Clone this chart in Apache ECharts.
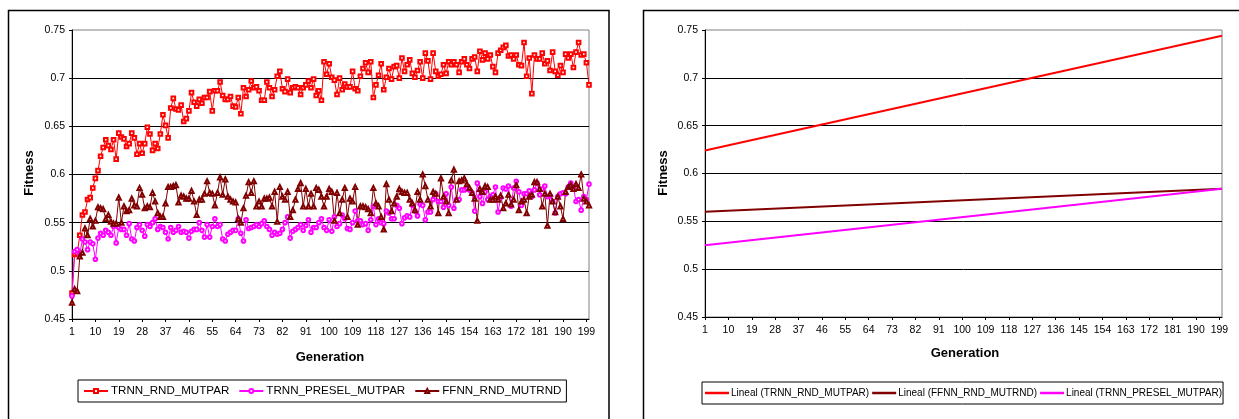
<!DOCTYPE html>
<html>
<head>
<meta charset="utf-8">
<script src="https://cdn.jsdelivr.net/npm/echarts@6/dist/echarts.min.js"></script>
<style>
html,body{margin:0;padding:0;background:#fff;}
#c{width:1239px;height:419px;}
</style>
</head>
<body>
<div id="c"></div>
<script>
// ---- data ----
const generations = Array.from({length: 200}, (_, i) => String(i + 1));

const trnnRndMutpar = [
0.477,0.517,0.518,0.537,0.558,0.561,0.574,0.576,0.586,0.596,
0.604,0.619,0.628,0.636,0.630,0.626,0.636,0.616,0.643,0.639,
0.637,0.629,0.632,0.643,0.638,0.621,0.632,0.622,0.632,0.649,
0.642,0.625,0.632,0.627,0.642,0.662,0.651,0.638,0.669,0.679,
0.668,0.667,0.672,0.655,0.658,0.666,0.685,0.675,0.671,0.678,
0.674,0.680,0.680,0.686,0.666,0.687,0.687,0.696,0.682,0.678,
0.678,0.681,0.671,0.670,0.680,0.663,0.690,0.681,0.688,0.697,
0.690,0.691,0.687,0.677,0.677,0.696,0.690,0.681,0.688,0.702,
0.707,0.689,0.686,0.699,0.685,0.690,0.691,0.690,0.683,0.690,
0.693,0.697,0.690,0.699,0.682,0.687,0.677,0.717,0.704,0.715,
0.701,0.698,0.683,0.700,0.688,0.694,0.691,0.691,0.707,0.689,
0.687,0.702,0.710,0.716,0.706,0.717,0.680,0.693,0.703,0.715,
0.688,0.701,0.710,0.699,0.712,0.713,0.700,0.721,0.707,0.714,
0.719,0.705,0.701,0.708,0.717,0.700,0.726,0.718,0.699,0.726,
0.707,0.702,0.704,0.714,0.705,0.717,0.714,0.717,0.714,0.706,
0.717,0.720,0.714,0.710,0.720,0.722,0.707,0.728,0.719,0.726,
0.720,0.724,0.712,0.706,0.726,0.729,0.732,0.734,0.723,0.724,
0.720,0.724,0.714,0.713,0.737,0.702,0.721,0.684,0.724,0.720,
0.720,0.726,0.715,0.718,0.708,0.727,0.707,0.703,0.713,0.706,
0.725,0.721,0.725,0.711,0.727,0.737,0.724,0.725,0.716,0.693
];

const trnnPreselMutpar = [
0.474,0.520,0.522,0.517,0.533,0.530,0.522,0.530,0.528,0.512,
0.534,0.539,0.537,0.542,0.540,0.537,0.546,0.529,0.545,0.543,
0.543,0.537,0.549,0.533,0.531,0.545,0.548,0.542,0.536,0.548,
0.546,0.550,0.554,0.543,0.546,0.545,0.540,0.533,0.545,0.540,
0.542,0.546,0.540,0.541,0.540,0.534,0.541,0.543,0.543,0.550,
0.542,0.535,0.548,0.535,0.546,0.554,0.546,0.548,0.533,0.531,
0.538,0.540,0.542,0.542,0.554,0.539,0.531,0.553,0.544,0.545,
0.546,0.548,0.546,0.549,0.552,0.546,0.543,0.537,0.540,0.538,
0.539,0.543,0.550,0.556,0.534,0.541,0.543,0.545,0.548,0.542,
0.547,0.553,0.540,0.545,0.545,0.550,0.554,0.545,0.542,0.553,
0.541,0.556,0.546,0.549,0.558,0.554,0.544,0.543,0.550,0.562,
0.552,0.552,0.548,0.549,0.542,0.553,0.567,0.548,0.554,0.550,
0.549,0.562,0.560,0.554,0.554,0.568,0.565,0.549,0.555,0.557,
0.556,0.568,0.562,0.557,0.569,0.568,0.553,0.561,0.561,0.574,
0.580,0.572,0.572,0.566,0.580,0.568,0.587,0.565,0.574,0.574,
0.584,0.584,0.585,0.584,0.581,0.562,0.591,0.577,0.570,0.582,
0.574,0.577,0.579,0.587,0.561,0.576,0.586,0.585,0.588,0.567,
0.586,0.593,0.582,0.568,0.580,0.580,0.583,0.577,0.584,0.591,
0.579,0.585,0.588,0.577,0.578,0.572,0.560,0.577,0.580,0.581,
0.580,0.587,0.591,0.587,0.572,0.574,0.563,0.577,0.574,0.590
];

const ffnnRndMutrnd = [
0.467,0.481,0.479,0.515,0.519,0.544,0.537,0.554,0.546,0.552,
0.566,0.565,0.564,0.554,0.558,0.551,0.549,0.549,0.576,0.550,
0.567,0.562,0.563,0.575,0.568,0.567,0.586,0.579,0.565,0.567,
0.566,0.581,0.572,0.560,0.556,0.556,0.570,0.587,0.587,0.588,
0.589,0.571,0.578,0.577,0.575,0.575,0.583,0.572,0.558,0.574,
0.574,0.580,0.593,0.581,0.580,0.568,0.581,0.597,0.579,0.595,
0.577,0.574,0.572,0.571,0.554,0.550,0.565,0.578,0.592,0.581,
0.593,0.567,0.572,0.567,0.575,0.575,0.576,0.567,0.582,0.551,
0.587,0.577,0.574,0.582,0.556,0.563,0.574,0.585,0.591,0.567,
0.585,0.567,0.580,0.567,0.586,0.584,0.577,0.567,0.577,0.585,
0.582,0.552,0.581,0.560,0.574,0.586,0.556,0.575,0.572,0.587,
0.548,0.567,0.567,0.566,0.564,0.560,0.586,0.570,0.567,0.556,
0.543,0.590,0.574,0.562,0.570,0.577,0.585,0.582,0.581,0.581,
0.574,0.570,0.563,0.582,0.574,0.600,0.588,0.574,0.567,0.582,
0.580,0.560,0.596,0.577,0.572,0.560,0.594,0.605,0.574,0.593,
0.594,0.596,0.590,0.586,0.581,0.575,0.552,0.585,0.582,0.588,
0.587,0.574,0.574,0.577,0.574,0.578,0.565,0.570,0.579,0.569,
0.574,0.589,0.563,0.572,0.574,0.560,0.577,0.579,0.592,0.592,
0.585,0.567,0.580,0.547,0.580,0.572,0.561,0.577,0.567,0.554,
0.582,0.587,0.589,0.585,0.590,0.586,0.600,0.575,0.572,0.568
];

// trend lines (read at generation 1 and 200)
const trendGens = ['1', '200'];
const trendTrnnRnd = [0.624, 0.744];
const trendFfnnRnd = [0.560, 0.584];
const trendTrnnPresel = [0.525, 0.584];

const yTicks = {min: 0.45, max: 0.75, interval: 0.05};

// ---- chart ----
const FONT = "'Liberation Sans', Arial, sans-serif";
const chart = echarts.init(document.getElementById('c'), null, {renderer: 'canvas'});

function xAxisCfg(gi) {
  return {
    type: 'category', gridIndex: gi, data: generations, boundaryGap: false,
    axisLine: {lineStyle: {color: '#000', width: 1}},
    axisTick: {interval: 8, length: 3, lineStyle: {color: '#000'}},
    axisLabel: {interval: 8, color: '#000', fontSize: 10.5, fontFamily: FONT, margin: 8},
    splitLine: {show: false}
  };
}
function yAxisCfg(gi) {
  return {
    type: 'value', gridIndex: gi, min: yTicks.min, max: yTicks.max, interval: yTicks.interval,
    axisLine: {show: true, lineStyle: {color: '#000', width: 1}},
    axisTick: {show: true, length: 3, lineStyle: {color: '#000'}},
    axisLabel: {color: '#000', fontSize: 10.5, fontFamily: FONT, margin: 7},
    splitLine: {show: true, showMaxLine: false, lineStyle: {color: '#000', width: 1}}
  };
}
function pairs(gens, vals) { return gens.map((g, i) => [g, vals[i]]); }

const option = {
  backgroundColor: '#fff',
  animation: false,
  textStyle: {fontFamily: FONT},
  grid: [
    {left: 72, right: 650, top: 30, bottom: 100, show: true, borderColor: '#808080', borderWidth: 1, backgroundColor: 'transparent'},
    {left: 705, right: 17, top: 30, bottom: 102, show: true, borderColor: '#808080', borderWidth: 1, backgroundColor: 'transparent'}
  ],
  xAxis: [xAxisCfg(0), xAxisCfg(1)],
  yAxis: [yAxisCfg(0), yAxisCfg(1)],
  legend: [
    {
      data: ['TRNN_RND_MUTPAR', 'TRNN_PRESEL_MUTPAR', 'FFNN_RND_MUTRND'],
      left: 78, top: 380, orient: 'horizontal', width: 560,
      borderColor: '#000', borderWidth: 1, backgroundColor: '#fff',
      padding: [5, 5, 5, 5], itemGap: 9, itemWidth: 24, itemHeight: 5,
      textStyle: {color: '#000', fontSize: 11.6, fontFamily: FONT, padding: [0, 0, 0, -2]}
    },
    {
      data: ['Lineal (TRNN_RND_MUTPAR)', 'Lineal (FFNN_RND_MUTRND)', 'Lineal (TRNN_PRESEL_MUTPAR)'],
      left: 702, top: 382, orient: 'horizontal', width: 530,
      icon: 'rect',
      borderColor: '#000', borderWidth: 1, backgroundColor: '#fff',
      padding: [6, 1, 6, 3], itemGap: 3, itemWidth: 24, itemHeight: 2.5,
      textStyle: {color: '#000', fontSize: 10, fontFamily: FONT, padding: [0, 0, 0, -3]}
    }
  ],
  series: [
    {name: 'TRNN_RND_MUTPAR', type: 'line', xAxisIndex: 0, yAxisIndex: 0, data: trnnRndMutpar,
      showAllSymbol: true, symbol: 'emptyRect', symbolSize: 3.6, lineStyle: {color: '#FF0000', width: 1},
      itemStyle: {color: '#FF0000', borderWidth: 0.8}},
    {name: 'TRNN_PRESEL_MUTPAR', type: 'line', xAxisIndex: 0, yAxisIndex: 0, data: trnnPreselMutpar,
      showAllSymbol: true, symbol: 'emptyCircle', symbolSize: 3.6, lineStyle: {color: '#FF00FF', width: 1},
      itemStyle: {color: '#FF00FF', borderWidth: 0.8}},
    {name: 'FFNN_RND_MUTRND', type: 'line', xAxisIndex: 0, yAxisIndex: 0, data: ffnnRndMutrnd,
      showAllSymbol: true, symbol: 'emptyTriangle', symbolSize: 4.2, lineStyle: {color: '#800000', width: 1},
      itemStyle: {color: '#800000', borderWidth: 0.8}},
    {name: 'Lineal (TRNN_RND_MUTPAR)', type: 'line', xAxisIndex: 1, yAxisIndex: 1,
      data: pairs(trendGens, trendTrnnRnd), symbol: 'none',
      lineStyle: {color: '#FF0000', width: 2}, itemStyle: {color: '#FF0000'}},
    {name: 'Lineal (FFNN_RND_MUTRND)', type: 'line', xAxisIndex: 1, yAxisIndex: 1,
      data: pairs(trendGens, trendFfnnRnd), symbol: 'none',
      lineStyle: {color: '#800000', width: 2}, itemStyle: {color: '#800000'}},
    {name: 'Lineal (TRNN_PRESEL_MUTPAR)', type: 'line', xAxisIndex: 1, yAxisIndex: 1,
      data: pairs(trendGens, trendTrnnPresel), symbol: 'none',
      lineStyle: {color: '#FF00FF', width: 2}, itemStyle: {color: '#FF00FF'}}
  ],
  graphic: [
    {type: 'rect', shape: {x: 8.5, y: 10.5, width: 600.5, height: 500}, style: {fill: 'none', stroke: '#000', lineWidth: 1.5}, silent: true, z: -1},
    {type: 'rect', shape: {x: 643.5, y: 10.5, width: 700, height: 500}, style: {fill: 'none', stroke: '#000', lineWidth: 1.5}, silent: true, z: -1},
    {type: 'text', x: 29, y: 173, rotation: Math.PI / 2, style: {text: 'Fitness', font: "bold 13px 'Liberation Sans', Arial, sans-serif", fill: '#000', textAlign: 'center', textVerticalAlign: 'middle'}},
    {type: 'text', x: 330, y: 357, style: {text: 'Generation', font: "bold 13px 'Liberation Sans', Arial, sans-serif", fill: '#000', textAlign: 'center', textVerticalAlign: 'middle'}},
    {type: 'text', x: 663, y: 173, rotation: Math.PI / 2, style: {text: 'Fitness', font: "bold 13px 'Liberation Sans', Arial, sans-serif", fill: '#000', textAlign: 'center', textVerticalAlign: 'middle'}},
    {type: 'text', x: 965, y: 353, style: {text: 'Generation', font: "bold 13px 'Liberation Sans', Arial, sans-serif", fill: '#000', textAlign: 'center', textVerticalAlign: 'middle'}}
  ]
};
chart.setOption(option);
</script>
</body>
</html>
